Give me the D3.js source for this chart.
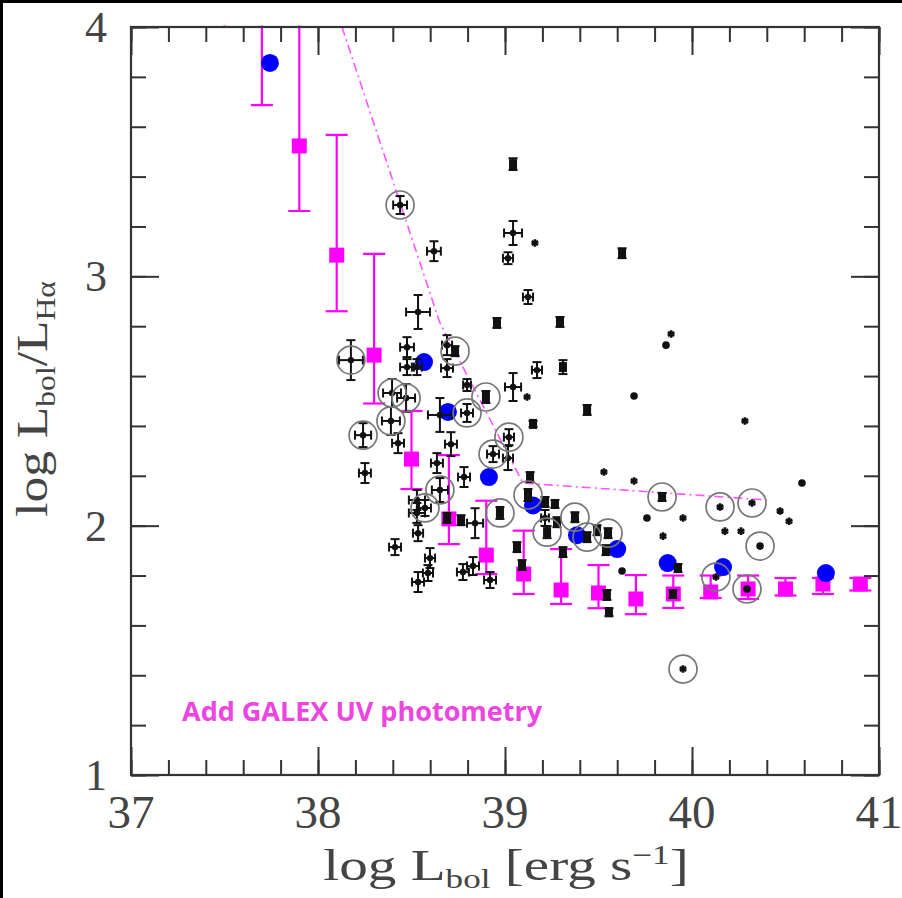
<!DOCTYPE html>
<html>
<head>
<meta charset="utf-8">
<script src="https://cdn.jsdelivr.net/npm/d3@7/dist/d3.min.js"></script>
<style>
  html, body { margin: 0; padding: 0; background: #fff; }
  svg { display: block; }
</style>
</head>
<body>
<svg id="chart" width="902" height="898"></svg>
<script>
// ---------------- data ----------------
// Stacked GALEX UV bins: centre, lower and upper bound of log Lbol/LHa
const galexX  = [37.5, 37.7, 37.9, 38.1, 38.3, 38.5, 38.7, 38.9, 39.1, 39.3, 39.5, 39.7, 39.9, 40.1, 40.3, 40.5, 40.7, 40.9];
const galexY  = [4.20, 4.10, 3.523, 3.085, 2.684, 2.267, 2.027, 1.882, 1.806, 1.742, 1.730, 1.706, 1.726, 1.734, 1.746, 1.746, 1.766, 1.766];
const galexLo = [4.00, 3.687, 3.262, 2.860, 2.490, 2.147, 1.926, 1.806, 1.726, 1.686, 1.669, 1.645, 1.670, 1.710, 1.706, 1.720, 1.726, 1.740];
const galexHi = [4.40, 4.30, 4.10, 3.567, 3.090, 2.460, 2.283, 2.100, 1.980, 1.906, 1.842, 1.802, 1.800, 1.800, 1.800, 1.790, 1.790, 1.790];

// Binned optical sample (blue)
const binX = [37.743, 38.567, 38.695, 38.914, 39.150, 39.385, 39.600, 39.870, 40.166, 40.716];
const binY = [3.856, 2.656, 2.456, 2.195, 2.081, 1.962, 1.906, 1.850, 1.834, 1.810];

// Dash-dot envelope
const envX = [38.128, 38.650, 39.096, 40.400];
const envY = [4.000, 2.817, 2.171, 2.103];

// Individual sources: x, y, x error, y error, marker kind, ringed
// kind: e = point with error cross, s = small box, a = asterisk, d = dot
const srcX = [38.439,38.620,39.043,39.043,39.016,39.160,39.626,39.123,38.957,39.294,
              39.171,39.310,39.043,39.118,39.439,39.690,39.861,39.888,40.283,39.150,
              38.535,38.176,38.476,38.476,38.529,38.690,38.733,38.690,38.797,38.898,
              38.396,38.471,38.390,38.241,38.428,38.652,38.797,38.711,39.021,38.936,
              39.016,38.251,38.636,38.781,39.134,38.652,38.529,38.572,38.529,38.535,
              38.690,38.765,38.840,38.973,39.123,39.214,39.267,39.214,39.278,39.225,
              39.374,39.439,39.492,39.551,39.540,39.064,39.091,39.310,38.412,38.599,
              38.588,38.535,38.775,38.829,38.920,39.529,39.690,39.840,39.759,39.952,
              39.845,39.925,39.626,39.545,39.556,39.898,40.150,40.321,40.471,40.519,
              40.588,40.176,40.262,40.364,40.128,40.294,39.952];
const srcY = [3.286,3.101,3.450,3.174,3.073,3.134,3.093,2.917,2.813,2.817,
              2.624,2.636,2.556,2.516,2.464,2.520,2.724,2.769,2.420,2.408,
              2.857,2.664,2.716,2.636,2.636,2.724,2.700,2.632,2.564,2.516,
              2.532,2.512,2.420,2.363,2.331,2.444,2.452,2.327,2.355,2.287,
              2.271,2.211,2.251,2.195,2.195,2.143,2.103,2.071,2.051,1.970,
              2.031,2.022,2.010,2.051,2.123,2.095,2.087,2.031,2.014,1.974,
              2.034,1.954,1.982,1.970,1.902,1.914,1.842,1.894,1.914,1.870,
              1.810,1.774,1.814,1.838,1.782,2.215,2.179,2.115,2.031,2.031,
              1.958,1.830,1.818,1.722,1.653,1.726,2.075,2.091,2.059,2.018,
              2.171,1.978,1.978,1.918,1.794,1.746,1.425];
const srcXErr = [.037,.037,0,.048,.027,0,0,.027,0,0,
                 .027,0,.043,0,0,0,0,0,0,0,
                 .064,.064,.037,.037,.027,.027,0,.032,.021,0,
                 .048,.048,.048,.043,.032,.064,.032,.032,.027,.032,
                 .027,.032,.032,.032,0,.043,.043,.032,.043,.027,
                 0,0,.043,0,0,0,0,.021,0,0,
                 0,0,0,0,0,0,0,0,.032,.027,
                 .027,.032,.032,.032,.032,0,0,0,0,0,
                 0,0,0,0,0,0,0,0,0,0,
                 0,0,0,0,0,0,0];
const srcYErr = [.036,.040,.024,.048,.024,0,.020,.028,.020,.020,
                 .032,.028,.056,0,.020,0,0,0,0,.012,
                 .068,.080,.040,.032,.032,.040,.020,.036,.024,.024,
                 .056,.056,.056,.048,.040,.068,.036,.048,.032,.032,
                 .048,.040,.040,.040,.020,.048,.040,.032,.040,.032,
                 .020,.020,.060,.024,.024,.020,.016,.032,.020,.024,
                 .020,.020,.020,.020,.020,.020,.020,.020,.032,.040,
                 .032,.040,.032,.036,.032,0,0,.016,0,0,
                 0,.016,0,.020,.016,.016,0,0,0,0,
                 0,0,0,0,0,0,0];
const srcKind = ["e","e","s","e","e","a","s","e","s","s",
                 "e","s","e","a","s","d","d","a","a","s",
                 "e","e","e","e","e","e","s","e","e","s",
                 "e","e","e","e","e","e","e","e","e","e",
                 "e","e","e","e","s","e","e","e","e","e",
                 "s","s","e","s","s","s","s","e","s","s",
                 "s","s","s","s","s","s","s","s","e","e",
                 "e","e","e","e","e","a","a","s","d","a",
                 "a","s","d","s","s","s","a","a","a","a",
                 "d","a","a","d","a","d","a"];
const srcRing = [1,0,0,0,0,0,0,0,0,0,
                 0,0,0,0,0,0,0,0,0,0,
                 0,1,0,0,0,0,1,0,0,1,
                 1,1,1,1,0,0,1,0,1,1,
                 0,0,0,0,0,1,0,1,0,0,
                 0,0,0,1,1,0,0,0,0,1,
                 1,1,0,1,0,0,0,0,0,0,
                 0,0,0,0,0,0,0,1,0,0,
                 0,0,0,0,0,0,1,1,0,0,
                 0,0,0,1,1,1,1];

const xTicks = [37, 38, 39, 40, 41];
const yTicks = [1, 2, 3, 4];

// ---------------- layout ----------------
const svg = d3.select("#chart");
const x = d3.scaleLinear().domain([37, 41]).range([131, 879]);
const y = d3.scaleLinear().domain([1, 4]).range([775, 27]);

const MAG = "#ff00ff", BLUE = "#0000ff", INK = "#111", FRAME = "#333";

svg.append("defs").append("clipPath").attr("id", "plot")
  .append("rect").attr("x", x(37)).attr("y", y(4) - 1.5)
  .attr("width", x(41) - x(37)).attr("height", y(1) - y(4) + 1.5);

const plot = svg.append("g").attr("clip-path", "url(#plot)");

// GALEX bins: error bars with caps, then squares
const galex = galexX.map((v, i) => ({x: v, y: galexY[i], lo: galexLo[i], hi: galexHi[i]}));
const gG = plot.append("g").attr("stroke", MAG).attr("stroke-width", 2.2);
gG.selectAll("line.v").data(galex).join("line")
  .attr("x1", d => x(d.x)).attr("x2", d => x(d.x))
  .attr("y1", d => y(d.lo)).attr("y2", d => y(d.hi));
gG.selectAll("line.lo").data(galex).join("line")
  .attr("x1", d => x(d.x) - 11).attr("x2", d => x(d.x) + 11)
  .attr("y1", d => y(d.lo)).attr("y2", d => y(d.lo));
gG.selectAll("line.hi").data(galex).join("line")
  .attr("x1", d => x(d.x) - 11).attr("x2", d => x(d.x) + 11)
  .attr("y1", d => y(d.hi)).attr("y2", d => y(d.hi));
plot.append("g").selectAll("rect").data(galex).join("rect")
  .attr("x", d => x(d.x) - 7.5).attr("y", d => y(d.y) - 7.5)
  .attr("width", 15).attr("height", 15).attr("fill", MAG);

// Dash-dot envelope
plot.append("path")
  .datum(envX.map((v, i) => [v, envY[i]]))
  .attr("d", d3.line().x(d => x(d[0])).y(d => y(d[1])))
  .attr("fill", "none").attr("stroke", "#ff55ff").attr("stroke-width", 1.6)
  .attr("stroke-dasharray", "9,4,2,4");

// Binned means
plot.append("g").selectAll("circle").data(binX.map((v, i) => ({x: v, y: binY[i]})))
  .join("circle").attr("cx", d => x(d.x)).attr("cy", d => y(d.y)).attr("r", 9)
  .attr("fill", BLUE);

// Individual sources
const src = srcX.map((v, i) => ({x: v, y: srcY[i], ex: srcXErr[i], ey: srcYErr[i], k: srcKind[i], ring: srcRing[i]}));
const sG = plot.append("g").attr("stroke", INK).attr("stroke-width", 2);
src.forEach(d => {
  const cx = x(d.x), cy = y(d.y);
  if (d.ey > 0) {
    const y1 = y(d.y - d.ey), y2 = y(d.y + d.ey);
    sG.append("line").attr("x1", cx).attr("x2", cx).attr("y1", y1).attr("y2", y2);
    sG.append("line").attr("x1", cx - 4.5).attr("x2", cx + 4.5).attr("y1", y1).attr("y2", y1);
    sG.append("line").attr("x1", cx - 4.5).attr("x2", cx + 4.5).attr("y1", y2).attr("y2", y2);
  }
  if (d.ex > 0) {
    const x1 = x(d.x - d.ex), x2 = x(d.x + d.ex);
    sG.append("line").attr("x1", x1).attr("x2", x2).attr("y1", cy).attr("y2", cy);
    sG.append("line").attr("x1", x1).attr("x2", x1).attr("y1", cy - 4.5).attr("y2", cy + 4.5);
    sG.append("line").attr("x1", x2).attr("x2", x2).attr("y1", cy - 4.5).attr("y2", cy + 4.5);
  }
  if (d.k === "e") {
    sG.append("circle").attr("cx", cx).attr("cy", cy).attr("r", 3.2).attr("fill", INK).attr("stroke", "none");
  } else if (d.k === "s") {
    sG.append("rect").attr("x", cx - 4).attr("y", cy - 5).attr("width", 8).attr("height", 10)
      .attr("fill", INK).attr("stroke", "none");
  } else if (d.k === "a") {
    sG.append("path").attr("transform", `translate(${cx},${cy})`)
      .attr("d", d3.symbol(d3.symbolAsterisk, 40)()).attr("fill", "none").attr("stroke-width", 2.6);
  } else {
    sG.append("circle").attr("cx", cx).attr("cy", cy).attr("r", 3.8).attr("fill", INK).attr("stroke", "none");
  }
});
plot.append("g").selectAll("circle").data(src.filter(d => d.ring))
  .join("circle").attr("cx", d => x(d.x)).attr("cy", d => y(d.y)).attr("r", 14)
  .attr("fill", "none").attr("stroke", "#777").attr("stroke-width", 1.7);

// ---------------- frame and ticks ----------------
const minorX = d3.range(37, 41.001, 0.2);
const minorY = d3.range(1, 4.001, 0.2);
const axes = svg.append("g").attr("class", "axes");
function tickAxis(gen, tr, vals, size) {
  const g = axes.append("g").attr("transform", tr)
    .call(gen.tickValues(vals).tickSize(-size).tickFormat(""));
  g.select(".domain").remove();
  g.selectAll(".tick line").attr("stroke", FRAME).attr("stroke-width", 2);
}
[[d3.axisBottom(x), `translate(0,${y(1)})`, minorX, 15], [d3.axisBottom(x), `translate(0,${y(1)})`, xTicks, 28],
 [d3.axisTop(x), `translate(0,${y(4)})`, minorX, 15], [d3.axisTop(x), `translate(0,${y(4)})`, xTicks, 28],
 [d3.axisLeft(y), `translate(${x(37)},0)`, minorY, 15], [d3.axisLeft(y), `translate(${x(37)},0)`, yTicks, 28],
 [d3.axisRight(y), `translate(${x(41)},0)`, minorY, 15], [d3.axisRight(y), `translate(${x(41)},0)`, yTicks, 28]]
  .forEach(a => tickAxis(a[0], a[1], a[2], a[3]));

axes.append("rect").attr("x", x(37)).attr("y", y(4))
  .attr("width", x(41) - x(37)).attr("height", y(1) - y(4))
  .attr("fill", "none").attr("stroke", FRAME).attr("stroke-width", 2.2);

// Tick labels
const labelFont = "'Liberation Serif', 'DejaVu Serif', serif";
svg.append("g").selectAll("text").data(xTicks).join("text")
  .attr("x", d => x(d)).attr("y", 828)
  .attr("text-anchor", "middle").attr("font-family", labelFont).attr("font-size", 47)
  .attr("fill", "#444").text(d => d);
svg.append("g").selectAll("text").data(yTicks).join("text")
  .attr("x", 107).attr("y", d => y(d) + 15)
  .attr("text-anchor", "end").attr("font-family", labelFont).attr("font-size", 44)
  .attr("fill", "#444").text(d => d);

// Axis titles
const xt = svg.append("text").attr("transform", "translate(506,880) scale(1.3,1)")
  .attr("text-anchor", "middle")
  .attr("font-family", labelFont).attr("font-size", 44).attr("fill", "#444");
xt.append("tspan").text("log L");
xt.append("tspan").attr("font-size", 27).attr("dy", 8).text("bol");
xt.append("tspan").attr("dy", -8).text(" [erg s");
xt.append("tspan").attr("font-size", 27).attr("dy", -16).text("−1");
xt.append("tspan").attr("dy", 16).text("]");

const yt = svg.append("text").attr("transform", "translate(47,399) rotate(-90) scale(1.17,1)")
  .attr("text-anchor", "middle").attr("font-family", labelFont).attr("font-size", 44).attr("fill", "#444");
yt.append("tspan").text("log L");
yt.append("tspan").attr("font-size", 27).attr("dy", 8).text("bol");
yt.append("tspan").attr("dy", -8).text("/L");
yt.append("tspan").attr("font-size", 27).attr("dy", 8).text("Hα");

// Annotation
svg.append("text").attr("x", 182).attr("y", 721)
  .attr("font-family", "'Open Sans', 'Noto Sans', sans-serif").attr("font-weight", 700)
  .attr("font-size", 27).attr("fill", "#ec45e0").text("Add GALEX UV photometry");

// Outer border
svg.append("rect").attr("x", 0).attr("y", 0).attr("width", 902).attr("height", 3).attr("fill", "#000");
svg.append("rect").attr("x", 0).attr("y", 0).attr("width", 3).attr("height", 898).attr("fill", "#000");
</script>
</body>
</html>
